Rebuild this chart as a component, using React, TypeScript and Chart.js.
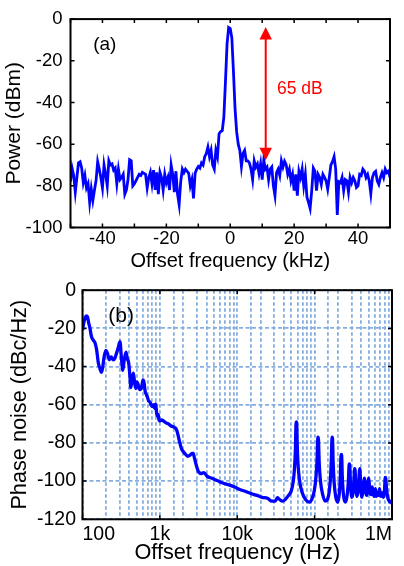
import React, { useEffect, useRef } from 'react';
import { Chart, registerables } from 'chart.js';

Chart.register(...registerables);

const FONT = '"Liberation Sans", Arial, Helvetica, sans-serif';

// ---------- (a) RF spectrum ----------
const offsetKHz = [
  -50, -49.5, -49, -48.5, -48, -47.5, -47, -46.5, -46, -45.5,
  -45, -44.5, -44, -43.5, -43, -42.5, -42, -41.5, -41, -40.5,
  -40, -39.5, -39, -38.5, -38, -37.5, -37, -36.5, -36, -35.5,
  -35, -34.5, -34, -33.5, -33, -32.5, -32, -31.5, -31, -30.5,
  -30, -29.5, -29, -28.5, -28, -27.5, -27, -26.5, -26, -25.5,
  -25, -24.5, -24, -23.5, -23, -22.5, -22, -21.5, -21, -20.5,
  -20, -19.5, -19, -18.5, -18, -17.5, -17, -16.5, -16, -15.5,
  -15, -14.5, -14, -13.5, -13, -12.5, -12, -11.5, -11, -10.5,
  -10, -9.5, -9, -8.5, -8, -7.5, -7, -6.5, -6, -5.5,
  -5, -4.5, -4, -3.5, -3, -2.5, -2, -1.5, -1, -0.5,
  0, 0.5, 1, 1.5, 2, 2.5, 3, 3.5, 4, 4.5,
  5, 5.5, 6, 6.5, 7, 7.5, 8, 8.5, 9, 9.5,
  10, 10.5, 11, 11.5, 12, 12.5, 13, 13.5, 14, 14.5,
  15, 15.5, 16, 16.5, 17, 17.5, 18, 18.5, 19, 19.5,
  20, 20.5, 21, 21.5, 22, 22.5, 23, 23.5, 24, 24.5,
  25, 25.5, 26, 26.5, 27, 27.5, 28, 28.5, 29, 29.5,
  30, 30.5, 31, 31.5, 32, 32.5, 33, 33.5, 34, 34.5,
  35, 35.5, 36, 36.5, 37, 37.5, 38, 38.5, 39, 39.5,
  40, 40.5, 41, 41.5, 42, 42.5, 43, 43.5, 44, 44.5,
  45, 45.5, 46, 46.5, 47, 47.5, 48, 48.5, 49, 49.5,
  50,
];

const powerDbm = [
  -78, -71.5, -75, -83, -76, -69, -68.5, -71.5, -78.5, -75,
  -81, -79, -88, -81.5, -87, -82, -77.5, -68.5, -72, -76,
  -81, -70, -74.5, -80, -68, -70, -69.5, -72.5, -71.5, -79,
  -72, -77, -76, -74.5, -84, -82, -77, -67.5, -68, -80,
  -79, -77.5, -76, -74.5, -75, -73.5, -74, -74.5, -81, -76,
  -73.5, -79, -72.5, -82, -73.5, -84, -73.5, -76, -82, -74.5,
  -78.5, -76, -82, -70, -74.5, -83, -73, -84, -89, -78,
  -72, -73.7, -72, -73, -74, -80, -77, -86, -74, -72,
  -70.7, -71.5, -69, -70, -66, -64.5, -61.4, -66, -63, -70,
  -72, -63, -66, -55, -54, -53.5, -47, -30, -12, -4,
  -4.5, -9, -25, -43, -54, -60, -63, -70.7, -64.5, -63,
  -68, -68, -69, -72, -77, -68, -71, -69.5, -74, -69.5,
  -77, -67.6, -72, -71, -77, -72, -71, -80, -84.7, -73.7,
  -72, -75, -68, -71, -68.2, -69.8, -74.5, -72, -77.6, -74.5,
  -82.3, -74.5, -84.7, -73, -76, -72, -80, -74.5, -85.4, -88,
  -90.9, -82.3, -71.5, -73, -82.3, -74.5, -76, -79.3, -74.5, -76,
  -77.6, -81.6, -76, -70, -68.4, -66, -72, -94, -78, -78.5,
  -76, -82.3, -77, -77.6, -83, -76, -78.5, -76, -77.6, -80.8,
  -80, -74.5, -75, -72, -73, -76, -74.5, -77.6, -83.8, -76,
  -73.7, -73, -77.6, -79.3, -76, -73.7, -76, -72, -73.7, -73,
  -76,
];

const specXMin = -50;
const specXMax = 50;
const specYMin = -100;
const specYMax = 0;
const specXLabelled = [-40, -20, 0, 20, 40];

// red double arrow + label
const arrowKHz = 11.1;
const arrowTopDbm = -3.8;
const arrowBottomDbm = -67.7;
const arrowText = '65 dB';
const arrowTextKHz = 14.6;
const arrowTextDbm = -33.5;
const panelAText = '(a)';
const panelAKHz = -42.9;
const panelADbm = -12.4;

// ---------- (b) phase noise ----------
const pnFreqHz = [
  100, 104, 108, 112, 116, 120, 125, 130, 137, 145,
  152, 160, 168, 176, 183, 190, 200, 210, 222, 235,
  250, 263, 275, 290, 305, 318, 332, 345, 365, 380,
  395, 410, 422, 440, 455, 470, 490, 505, 525, 550,
  580, 605, 625, 645, 665, 690, 715, 742, 770, 800,
  830, 860, 885, 905, 925, 950, 975, 1000, 1060, 1110,
  1200, 1290, 1380, 1490, 1560, 1640, 1720, 1810, 1900, 2000,
  2150, 2300, 2440, 2600, 2700, 2800, 2970, 3150, 3450, 3700,
  4100, 4700, 5500, 6500, 7800, 9100, 11000, 13000, 15000, 18000,
  21000, 24600, 28000, 31000, 33000, 35000, 38400, 42000, 45000, 50000,
  53000, 55000, 56500, 57500, 58500, 59500, 61000, 64000, 69000, 76000,
  85000, 93000, 99000, 104000, 107500, 110000, 112000, 114500, 119000, 127000,
  137000, 147000, 155000, 161000, 165000, 168000, 170500, 173500, 179000, 188000,
  200000, 209000, 215000, 220000, 223500, 228000, 237000, 250000, 262000, 273000,
  280000, 284000, 290000, 302000, 314000, 323000, 329000, 333000, 340000, 352000,
  365000, 375000, 381000, 385000, 394000, 408000, 422000, 433000, 440000, 446000,
  458000, 475000, 488000, 497000, 505000, 520000, 540000, 555000, 570000, 590000,
  610000, 630000, 650000, 670000, 690000, 705000, 725000, 750000, 775000, 800000,
  818000, 830000, 850000, 875000, 905000, 940000, 970000, 1000000,
];

const pnDbcHz = [
  -21, -17, -14.5, -13.5, -14, -17, -20, -24, -26, -27.5,
  -31, -38, -41, -43, -40, -35, -31.5, -33, -36.5, -35,
  -36.5, -35.5, -33, -30, -27, -35, -42, -37, -32.5, -36,
  -38, -45, -51, -46, -43.5, -48, -51.5, -48, -49.5, -52,
  -51, -47, -48.5, -53, -54.5, -56, -58, -58.5, -60, -61,
  -60, -62, -59.5, -64, -66, -65, -68, -68.5, -68, -68.5,
  -69.5, -70, -71, -71.5, -72, -73, -76, -80, -83, -84.5,
  -86, -87, -86.5, -85.5, -85.5, -88, -92, -95, -96, -95.5,
  -97.5, -98.5, -99.7, -101, -102, -103, -104.5, -105.5, -106.5, -107.5,
  -108.5, -109, -110.5, -110.5, -108.7, -109.5, -110.5, -109.5, -108, -105,
  -100, -93, -83, -70, -69, -80, -91, -100, -106, -109.5,
  -111, -109, -105, -98, -89, -77, -78, -90, -100, -107,
  -110.5, -109.5, -105, -97, -87, -77, -78, -90, -101, -108.5,
  -111, -106, -98, -86, -86.5, -98, -108, -111, -108, -100,
  -91, -91.5, -100, -108.5, -106, -99, -93.5, -94, -101, -108,
  -105, -98, -93.5, -94, -102, -108.5, -105, -100, -98.5, -100,
  -106, -107.5, -102, -98.5, -100, -106, -107, -103, -106.5, -108,
  -104, -108, -106, -107.5, -104, -107, -108, -106, -108.5, -105,
  -98, -98.5, -104, -108, -110, -111, -110.5, -112,
];

const pnXMin = 100;
const pnXMax = 1000000;
const pnYMin = -120;
const pnYMax = 0;
const pnDecadeLabels: Record<number, string> = { 2: '100', 3: '1k', 4: '10k', 5: '100k', 6: '1M' };
const panelBText = '(b)';
const panelBHz = 215;
const panelBDbc = -13.4;

const isDecade = (v: number) => {
  const l = Math.log10(v);
  return Math.abs(l - Math.round(l)) < 1e-6;
};

function makeFramePlugin(id: string, tickLen: number, xDecadesOnly: boolean) {
  return {
    id,
    afterDraw(chart: any) {
      const { ctx, chartArea, scales } = chart;
      const { left, right, top, bottom } = chartArea;
      ctx.save();
      ctx.strokeStyle = '#000';
      ctx.lineWidth = 1.5;
      ctx.beginPath();
      scales.x.ticks.forEach((t: any) => {
        if (xDecadesOnly && !isDecade(t.value)) return;
        const px = scales.x.getPixelForValue(t.value);
        ctx.moveTo(px, bottom);
        ctx.lineTo(px, bottom - tickLen);
        ctx.moveTo(px, top);
        ctx.lineTo(px, top + tickLen);
      });
      scales.y.ticks.forEach((t: any) => {
        const py = scales.y.getPixelForValue(t.value);
        ctx.moveTo(left, py);
        ctx.lineTo(left + tickLen, py);
        ctx.moveTo(right, py);
        ctx.lineTo(right - tickLen, py);
      });
      ctx.stroke();
      ctx.lineWidth = 2;
      ctx.strokeRect(left, top, right - left, bottom - top);
      ctx.restore();
    },
  };
}

const annotAPlugin = {
  id: 'annotA',
  afterDatasetsDraw(chart: any) {
    const { ctx, scales } = chart;
    const x = scales.x;
    const y = scales.y;
    const ax = x.getPixelForValue(arrowKHz);
    const y1 = y.getPixelForValue(arrowTopDbm);
    const y2 = y.getPixelForValue(arrowBottomDbm);
    const hl = 12.5;
    const hw = 6.2;
    ctx.save();
    ctx.strokeStyle = '#ff0000';
    ctx.fillStyle = '#ff0000';
    ctx.lineWidth = 2;
    ctx.beginPath();
    ctx.moveTo(ax, y1 + hl - 1);
    ctx.lineTo(ax, y2 - hl + 1);
    ctx.stroke();
    ctx.beginPath();
    ctx.moveTo(ax, y1);
    ctx.lineTo(ax - hw, y1 + hl);
    ctx.lineTo(ax + hw, y1 + hl);
    ctx.closePath();
    ctx.fill();
    ctx.beginPath();
    ctx.moveTo(ax, y2);
    ctx.lineTo(ax - hw, y2 - hl);
    ctx.lineTo(ax + hw, y2 - hl);
    ctx.closePath();
    ctx.fill();
    ctx.font = `17.5px ${FONT}`;
    ctx.textBaseline = 'middle';
    ctx.textAlign = 'left';
    ctx.fillText(arrowText, x.getPixelForValue(arrowTextKHz), y.getPixelForValue(arrowTextDbm));
    ctx.fillStyle = '#000';
    ctx.font = `19px ${FONT}`;
    ctx.fillText(panelAText, x.getPixelForValue(panelAKHz), y.getPixelForValue(panelADbm));
    ctx.restore();
  },
};

const annotBPlugin = {
  id: 'annotB',
  afterDatasetsDraw(chart: any) {
    const { ctx, scales } = chart;
    ctx.save();
    ctx.fillStyle = '#000';
    ctx.font = `21px ${FONT}`;
    ctx.textBaseline = 'middle';
    ctx.textAlign = 'left';
    ctx.fillText(panelBText, scales.x.getPixelForValue(panelBHz), scales.y.getPixelForValue(panelBDbc));
    ctx.restore();
  },
};

const TOP_H = 276;
const BOT_TOP = 272;
const BOT_H = 566 - BOT_TOP;
const GRID_COLOR = '#86ade0';

export default function App() {
  const topRef = useRef<HTMLCanvasElement>(null);
  const botRef = useRef<HTMLCanvasElement>(null);

  useEffect(() => {
    const c1 = topRef.current!;
    const c2 = botRef.current!;

    const chartA = new Chart(c1, {
      type: 'line',
      data: {
        datasets: [
          {
            data: offsetKHz.map((x, i) => ({ x, y: powerDbm[i] })),
            borderColor: '#0000ff',
            borderWidth: 2.8,
            pointRadius: 0,
            tension: 0,
            fill: false,
          },
        ],
      },
      options: {
        animation: false,
        responsive: false,
        maintainAspectRatio: false,
        events: [],
        layout: { padding: { top: 13.5, right: 14, left: 0, bottom: 0 } },
        plugins: { legend: { display: false }, tooltip: { enabled: false } },
        scales: {
          x: {
            type: 'linear',
            min: specXMin,
            max: specXMax,
            grid: { display: false, drawTicks: false },
            border: { display: false },
            ticks: {
              stepSize: 10,
              autoSkip: false,
              maxRotation: 0,
              padding: 0,
              color: '#000',
              font: { family: FONT, size: 18.5 },
              callback: (v: any) => (specXLabelled.includes(Number(v)) ? String(v) : ''),
            },
            title: {
              display: true,
              text: 'Offset frequency (kHz)',
              color: '#000',
              font: { family: FONT, size: 20 },
              padding: { top: 0, bottom: 2.7 },
            },
            afterFit: (s: any) => {
              s.height = TOP_H - 227.5;
            },
          },
          y: {
            type: 'linear',
            min: specYMin,
            max: specYMax,
            grid: { display: false, drawTicks: false },
            border: { display: false },
            ticks: {
              stepSize: 20,
              padding: 8,
              color: '#000',
              font: { family: FONT, size: 18.5 },
            },
            title: {
              display: true,
              text: 'Power (dBm)',
              color: '#000',
              font: { family: FONT, size: 21 },
              padding: { top: 1.5, bottom: 0 },
            },
            afterFit: (s: any) => {
              s.width = 70.5;
            },
          },
        },
      },
      plugins: [makeFramePlugin('frameA', 4, false), annotAPlugin],
    } as any);

    const chartB = new Chart(c2, {
      type: 'line',
      data: {
        datasets: [
          {
            data: pnFreqHz.map((x, i) => ({ x, y: pnDbcHz[i] })),
            borderColor: '#0000ff',
            borderWidth: 3.3,
            pointRadius: 0,
            cubicInterpolationMode: 'monotone',
            fill: false,
          },
        ],
      },
      options: {
        animation: false,
        responsive: false,
        maintainAspectRatio: false,
        events: [],
        layout: { padding: { top: 285.3 - BOT_TOP, right: 12, left: 0, bottom: 0 } },
        plugins: { legend: { display: false }, tooltip: { enabled: false } },
        scales: {
          x: {
            type: 'logarithmic',
            min: pnXMin,
            max: pnXMax,
            grid: { display: true, drawTicks: false, color: GRID_COLOR, lineWidth: 1.8 },
            border: { display: false, dash: [3.5, 2.5] },
            ticks: {
              autoSkip: false,
              maxRotation: 0,
              align: 'inner',
              padding: 4,
              color: '#000',
              font: { family: FONT, size: 19.5 },
              callback: (v: any) => {
                const n = Number(v);
                if (!isDecade(n)) return '';
                return pnDecadeLabels[Math.round(Math.log10(n))] ?? '';
              },
            },
            title: {
              display: true,
              text: 'Offset frequency (Hz)',
              color: '#000',
              font: { family: FONT, size: 21.7 },
              padding: { top: 0, bottom: 0 },
            },
            afterFit: (s: any) => {
              s.height = BOT_H - (519.3 - BOT_TOP);
            },
          },
          y: {
            type: 'linear',
            min: pnYMin,
            max: pnYMax,
            grid: { display: true, drawTicks: false, color: GRID_COLOR, lineWidth: 1.8 },
            border: { display: false, dash: [4, 2.5] },
            ticks: {
              stepSize: 20,
              padding: 6.5,
              color: '#000',
              font: { family: FONT, size: 19.5 },
            },
            title: {
              display: true,
              text: 'Phase noise (dBc/Hz)',
              color: '#000',
              font: { family: FONT, size: 21.7 },
              padding: { top: 7, bottom: 0 },
            },
            afterFit: (s: any) => {
              s.width = 82.5;
            },
          },
        },
      },
      plugins: [makeFramePlugin('frameB', 4, true), annotBPlugin],
    } as any);

    return () => {
      chartA.destroy();
      chartB.destroy();
    };
  }, []);

  return (
    <div style={{ position: 'absolute', left: 0, top: 0, width: 404, height: 566, background: '#fff', overflow: 'hidden' }}>
      <canvas
        ref={topRef}
        width={404}
        height={TOP_H}
        style={{ position: 'absolute', left: 0, top: 0, width: 404, height: TOP_H }}
      />
      <canvas
        ref={botRef}
        width={404}
        height={BOT_H}
        style={{ position: 'absolute', left: 0, top: BOT_TOP, width: 404, height: BOT_H }}
      />
    </div>
  );
}
